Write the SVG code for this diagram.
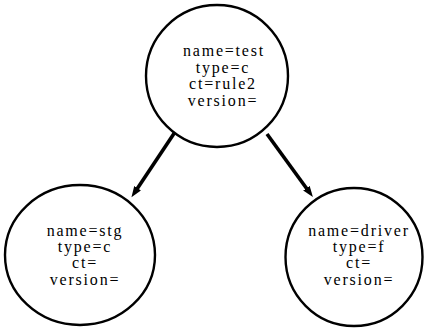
<svg xmlns="http://www.w3.org/2000/svg" width="425" height="328" viewBox="0 0 425 328">
  <style>
    .node { fill: #ffffff; stroke: #000000; stroke-width: 2.4; }
    .label { font-family: "Liberation Serif", "Times New Roman", serif; font-size: 16px; letter-spacing: 1.8px; fill: #000000; text-anchor: middle; }
    .edge { stroke: #000000; stroke-width: 3.6; fill: none; marker-end: url(#head); }
  </style>
  <defs>
    <marker id="head" markerUnits="userSpaceOnUse" markerWidth="12" markerHeight="9" refX="1" refY="4" orient="auto">
      <path d="M0,0 L11,4 L0,8 Z" fill="#000000"/>
    </marker>
  </defs>

  <g id="edges">
    <line class="edge" x1="175" y1="132" x2="137" y2="189"/>
    <line class="edge" x1="267" y1="134" x2="307" y2="189"/>
  </g>

  <g id="node-test">
    <circle class="node" cx="217" cy="76" r="71"/>
    <text class="label" x="224" y="56">name=test</text>
    <text class="label" x="223" y="72.5">type=c</text>
    <text class="label" x="223" y="89">ct=rule2</text>
    <text class="label" x="223" y="105.5">version=</text>
  </g>

  <g id="node-stg">
    <ellipse class="node" cx="80" cy="255" rx="75" ry="70"/>
    <text class="label" x="85" y="235.5">name=stg</text>
    <text class="label" x="85" y="252">type=c</text>
    <text class="label" x="85" y="268">ct=</text>
    <text class="label" x="85" y="284.5">version=</text>
  </g>

  <g id="node-driver">
    <ellipse class="node" cx="354" cy="257" rx="68.5" ry="69"/>
    <text class="label" x="359" y="235.5">name=driver</text>
    <text class="label" x="359" y="252">type=f</text>
    <text class="label" x="359" y="268">ct=</text>
    <text class="label" x="359" y="284.5">version=</text>
  </g>
</svg>
